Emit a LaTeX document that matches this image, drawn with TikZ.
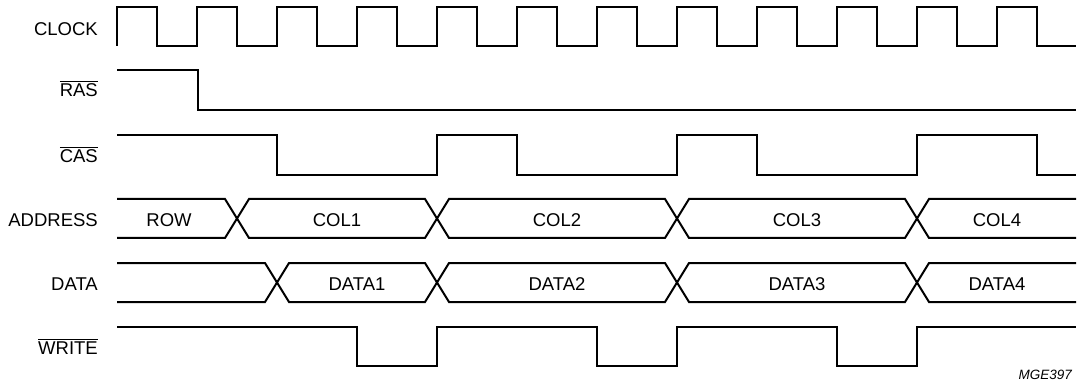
\documentclass[tikz,border=0pt]{standalone}
\usepackage{fontspec}
\setmainfont{Liberation Sans}
\newcommand\ovlbar[1]{\leavevmode\vbox{\hrule height 1.1pt\kern1.6pt\hbox{#1}}}
\begin{document}
\begin{tikzpicture}[x=1pt,y=-1pt,
  sig/.style={line width=2pt, line join=miter, line cap=butt},
  lbl/.style={anchor=base east, inner sep=0pt, font=\fontsize{18.5}{22}\selectfont},
  val/.style={anchor=base, inner sep=0pt, font=\fontsize{18.5}{22}\selectfont},
  tag/.style={anchor=base east, inner sep=0pt, font=\fontsize{13.5}{16}\selectfont\itshape}]
\useasboundingbox (0,0) rectangle (1080,385);

% signal names
\node[lbl] (lclk) at (98,36) {CLOCK};
\node[lbl] (lras) at (98,97) {\ovlbar{RAS}};
\node[lbl] (lcas) at (98,163) {\ovlbar{CAS}};
\node[lbl] (ladr) at (98,226) {ADDRESS};
\node[lbl] (ldat) at (98,290) {DATA};
\node[lbl] (lwr) at (98,354) {\ovlbar{WRITE}};

% CLOCK
\draw[sig] (117,46) -- (117,7)
  foreach \k in {0,...,10} { -- ({157+80*\k},7) -- ({157+80*\k},46) -- ({197+80*\k},46) -- ({197+80*\k},7) }
  -- (1037,7) -- (1037,46) -- (1076,46);

% RAS
\draw[sig] (117,70) -- (198,70) -- (198,110) -- (1076,110);

% CAS
\draw[sig] (117,135) -- (277,135) -- (277,175) -- (437,175) -- (437,135) -- (517,135) -- (517,175)
  -- (677,175) -- (677,135) -- (757,135) -- (757,175) -- (917,175) -- (917,135) -- (1037,135)
  -- (1037,175) -- (1076,175);

% ADDRESS bus (top 199, bottom 238, crossings 237, 437, 677, 917)
\draw[sig] (117,199) -- (225,199) -- (249,238) -- (425,238) -- (449,199) -- (665,199) -- (689,238)
  -- (905,238) -- (929,199) -- (1076,199);
\draw[sig] (117,238) -- (225,238) -- (249,199) -- (425,199) -- (449,238) -- (665,238) -- (689,199)
  -- (905,199) -- (929,238) -- (1076,238);
\node[val] (row) at (169,226) {ROW};
\node[val] (col1) at (337,226) {COL1};
\node[val] (col2) at (557,226) {COL2};
\node[val] (col3) at (797,226) {COL3};
\node[val] (col4) at (997,226) {COL4};

% DATA bus (top 263, bottom 302, crossings 277, 437, 677, 917)
\draw[sig] (117,263) -- (265,263) -- (289,302) -- (425,302) -- (449,263) -- (665,263) -- (689,302)
  -- (905,302) -- (929,263) -- (1076,263);
\draw[sig] (117,302) -- (265,302) -- (289,263) -- (425,263) -- (449,302) -- (665,302) -- (689,263)
  -- (905,263) -- (929,302) -- (1076,302);
\node[val] (d1) at (357,290) {DATA1};
\node[val] (d2) at (557,290) {DATA2};
\node[val] (d3) at (797,290) {DATA3};
\node[val] (d4) at (997,290) {DATA4};

% WRITE
\draw[sig] (117,327) -- (357,327) -- (357,366) -- (437,366) -- (437,327) -- (597,327) -- (597,366)
  -- (677,366) -- (677,327) -- (837,327) -- (837,366) -- (917,366) -- (917,327) -- (1076,327);

\node[tag] (ref) at (1072,379) {MGE397};
\end{tikzpicture}
\end{document}
